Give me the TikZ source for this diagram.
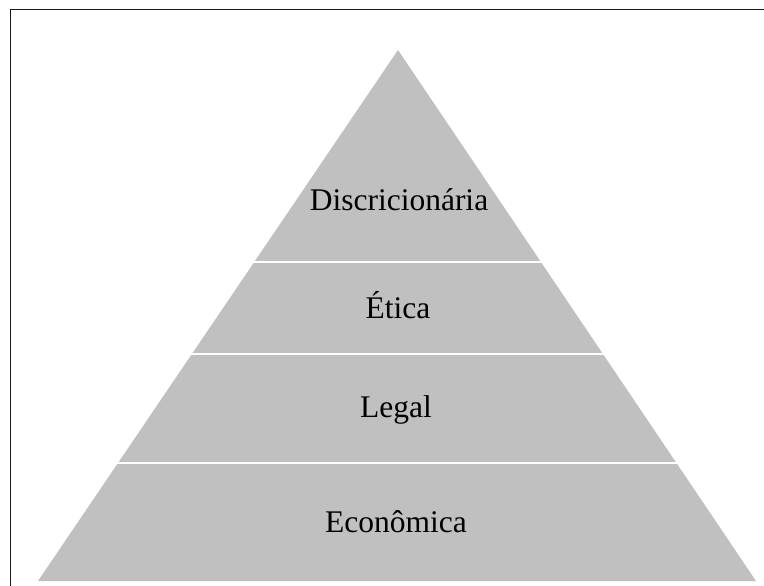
\documentclass[tikz,border=0pt]{standalone}
\usepackage{fontspec}
\setmainfont{Liberation Serif}
\definecolor{pyrgray}{RGB}{192,192,192}
\definecolor{framecol}{RGB}{25,25,25}
\begin{document}
\begin{tikzpicture}[x=1pt,y=-1pt,
  label/.style={font=\fontsize{31.5}{36}\selectfont, text=black, anchor=base, inner sep=0pt},
  sep/.style={draw=white, line width=2.2pt},
  frameline/.style={draw=framecol, line width=1.6pt}]
\useasboundingbox (0,0) rectangle (764,586);
\fill[white] (0,0) rectangle (764,586);
% frame (top and left)
\draw[frameline] (764,9.5) -- (10.5,9.5) -- (10.5,586);
% pyramid
\coordinate (apex) at (398,50);
\coordinate (bl) at (38,581);
\coordinate (br) at (756,581);
\fill[pyrgray] (apex) -- (br) -- (bl) -- cycle;
% separators
\draw[sep] (240,262) -- (556,262);
\draw[sep] (180,354) -- (616,354);
\draw[sep] (100,463) -- (696,463);
% labels
\node[label] (disc) at (399,210) {Discricionária};
\node[label] (etica) at (398,318) {Ética};
\node[label] (legal) at (396,417) {Legal};
\node[label] (econ) at (396,532) {Econômica};
\end{tikzpicture}
\end{document}
